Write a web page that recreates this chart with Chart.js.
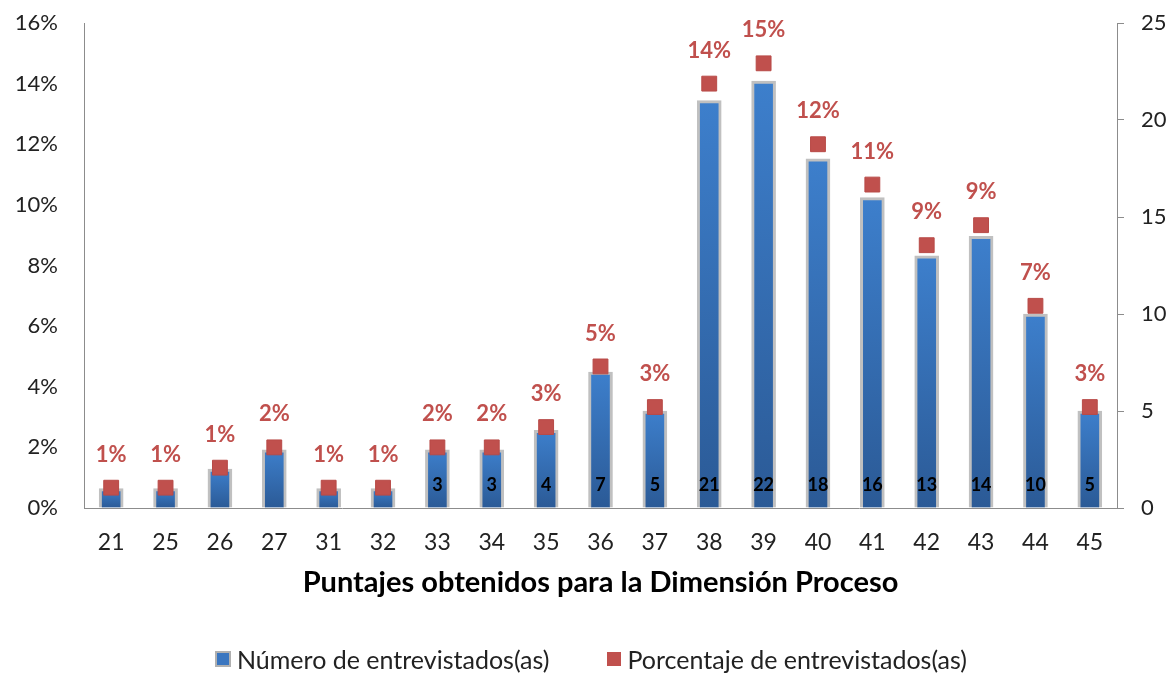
<!DOCTYPE html>
<html lang="es">
<head>
<meta charset="utf-8">
<title>Dimensión Proceso</title>
<script src="https://cdn.jsdelivr.net/npm/chart.js@4.4.1/dist/chart.umd.min.js"></script>
<style>
  body { margin: 0; background: #fff; font-family: Lato, sans-serif; }
  .wrap { position: relative; width: 1171px; height: 674px; overflow: hidden; }
  .leyenda { position: absolute; top: 644px; left: 215px; display: flex; align-items: center; font-size: 25px; line-height: 30px; color: #222; white-space: nowrap; }
  .leyenda span.caja { display: inline-block; width: 12px; height: 12px; margin-right: 6px; }
  .leyenda .azul { background: #3a76c0; border: 2px solid #b0b0b0; }
  .leyenda .rojo { background: #c0504d; border: 1px solid #c0504d; margin-left: 58px; }
</style>
</head>
<body>
<div class="wrap">
  <canvas id="grafico" width="1171" height="674"></canvas>
  <div class="leyenda">
    <span class="caja azul"></span><span>Número de entrevistados(as)</span>
    <span class="caja rojo"></span><span>Porcentaje de entrevistados(as)</span>
  </div>
</div>
<script>
const puntajes = ['21', '25', '26', '27', '31', '32', '33', '34', '35', '36', '37', '38', '39', '40', '41', '42', '43', '44', '45'];
const entrevistados = [1, 1, 2, 3, 1, 1, 3, 3, 4, 7, 5, 21, 22, 18, 16, 13, 14, 10, 5];
const porcentajes = [0.67, 0.67, 1.33, 2.00, 0.67, 0.67, 2.00, 2.00, 2.67, 4.67, 3.33, 14.00, 14.67, 12.00, 10.67, 8.67, 9.33, 6.67, 3.33];

// the small bars at the start carry no count label
const primeraEtiqueta = 6;

const FUENTE = 'Lato';

// vertical gradient per bar: lighter at the top, darker at the base
function colorBarra(ctx) {
  const chart = ctx.chart;
  const escala = chart.scales.yNum;
  if (!chart.chartArea || !escala) return '#3670b5';
  const arriba = escala.getPixelForValue(ctx.raw);
  const abajo = escala.getPixelForValue(0);
  if (!isFinite(arriba) || abajo - arriba < 1) return '#3670b5';
  const g = chart.ctx.createLinearGradient(0, arriba, 0, abajo);
  g.addColorStop(0, '#3d7fcc');
  g.addColorStop(1, '#2b5a96');
  return g;
}

// fixed axis widths; tick padding must not push the plot area down
function ajustarEje(ancho) {
  return scale => {
    scale.width = ancho;
    scale.paddingTop = 0;
    scale.paddingBottom = 0;
  };
}

const etiquetas = {
  id: 'etiquetas',
  afterDatasetsDraw(chart) {
    const ctx = chart.ctx;
    ctx.save();
    ctx.textAlign = 'center';
    ctx.textBaseline = 'middle';

    // percentage above each red marker
    const puntos = chart.getDatasetMeta(0);
    ctx.fillStyle = '#c0504d';
    ctx.font = 'bold 22px ' + FUENTE;
    puntos.data.forEach((p, i) => {
      ctx.fillText(Math.round(porcentajes[i]) + '%', p.x, p.y - 33);
    });

    // count near the base of each bar
    const barras = chart.getDatasetMeta(1);
    const base = chart.scales.yNum.getPixelForValue(0);
    ctx.fillStyle = '#000';
    ctx.font = 'bold 18px ' + FUENTE;
    barras.data.forEach((b, i) => {
      if (i < primeraEtiqueta) return;
      ctx.fillText(String(entrevistados[i]), b.x, base - 23);
    });
    ctx.restore();
  }
};

new Chart(document.getElementById('grafico'), {
  data: {
    labels: puntajes,
    datasets: [
      {
        type: 'line',
        label: 'Porcentaje de entrevistados(as)',
        data: porcentajes,
        yAxisID: 'yPct',
        showLine: false,
        pointStyle: 'rect',
        pointRadius: 10.5,
        pointHoverRadius: 10.5,
        backgroundColor: '#c0504d',
        borderColor: '#b84a47',
        borderWidth: 1,
        order: 1
      },
      {
        type: 'bar',
        label: 'Número de entrevistados(as)',
        data: entrevistados,
        yAxisID: 'yNum',
        backgroundColor: colorBarra,
        borderColor: 'rgba(150, 150, 150, 0.6)',
        borderWidth: 3,
        barThickness: 24,
        order: 2
      }
    ]
  },
  options: {
    responsive: false,
    animation: false,
    layout: { padding: { top: 23, bottom: 74, left: 0, right: 0 } },
    plugins: {
      legend: { display: false },
      tooltip: { enabled: false }
    },
    scales: {
      x: {
        grid: { display: false, drawTicks: false },
        border: { display: true, color: '#8c8c8c', width: 1 },
        ticks: { color: '#222', font: { family: FUENTE, size: 23 }, padding: 21 },
        title: {
          display: true,
          text: 'Puntajes obtenidos para la Dimensión Proceso',
          color: '#000',
          font: { family: FUENTE, size: 29, weight: 'bold' },
          padding: { top: 0, bottom: 0 }
        },
        afterFit(scale) { scale.height = 92; }
      },
      yPct: {
        position: 'left',
        min: 0,
        max: 16,
        grid: { drawOnChartArea: false, drawTicks: false },
        border: { display: true, color: '#8c8c8c', width: 1 },
        ticks: {
          stepSize: 2,
          padding: 26,
          color: '#222',
          font: { family: FUENTE, size: 22 },
          callback: v => v + '%'
        },
        afterFit: ajustarEje(84)
      },
      yNum: {
        position: 'right',
        min: 0,
        max: 25,
        grid: { drawOnChartArea: false, drawTicks: true, tickLength: 7, color: '#8c8c8c' },
        border: { display: true, color: '#8c8c8c', width: 1 },
        ticks: {
          stepSize: 5,
          padding: 17,
          color: '#222',
          font: { family: FUENTE, size: 22 }
        },
        afterFit: ajustarEje(54)
      }
    }
  },
  plugins: [etiquetas]
});
</script>
</body>
</html>
